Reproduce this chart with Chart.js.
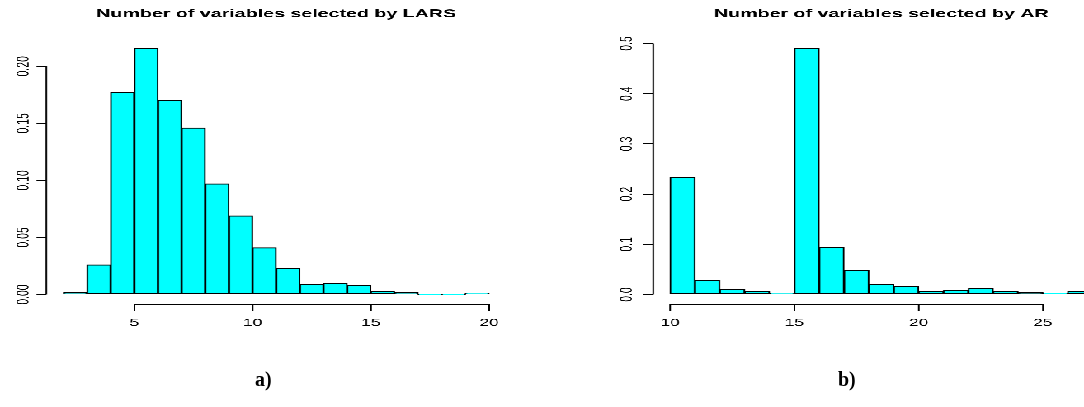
<!DOCTYPE html>
<html>
<head>
<meta charset="utf-8">
<script src="https://cdn.jsdelivr.net/npm/chart.js@4"></script>
<style>
  html, body { margin: 0; padding: 0; background: #fff; }
  body { width: 1084px; height: 407px; position: relative; overflow: hidden; }
  /* the R figure was stretched sideways, so draw narrow and scale */
  #plots { position: absolute; left: 0; top: 0; width: 657px; height: 407px;
           transform: scaleX(1.65); transform-origin: 0 0; overflow: hidden; }
  .box { position: absolute; top: 0; height: 340px; }
  #leftBox { left: 0; width: 330px; }
  #rightBox { left: 327.3px; width: 350px; }
  .cap { position: absolute; top: 368px; font: bold 20px "Liberation Serif", "DejaVu Serif", serif; color: #000; }
</style>
</head>
<body>
<div id="plots">
  <div class="box" id="leftBox"><canvas id="lars"></canvas></div>
  <div class="box" id="rightBox"><canvas id="ar"></canvas></div>
</div>
<div class="cap" style="left:255px">a)</div>
<div class="cap" style="left:838px">b)</div>
<script>
// histogram a): LARS
const larsTitle = 'Number of variables selected by LARS';
const larsBreaks = [2, 3, 4, 5, 6, 7, 8, 9, 10, 11, 12, 13, 14, 15, 16, 17, 18, 19, 20];
const larsDensity = [0.002, 0.026, 0.177, 0.216, 0.170, 0.146, 0.097, 0.069, 0.041,
                     0.023, 0.009, 0.010, 0.008, 0.003, 0.002, 0, 0, 0.001];
const larsXTicks = [5, 10, 15, 20];
const larsYTicks = [0, 0.05, 0.10, 0.15, 0.20];
const larsYLabels = ['0.00', '0.05', '0.10', '0.15', '0.20'];

// histogram b): AR
const arTitle = 'Number of variables selected by AR';
const arBreaks = [10, 11, 12, 13, 14, 15, 16, 17, 18, 19, 20, 21, 22, 23, 24, 25, 26, 27];
const arDensity = [0.234, 0.029, 0.010, 0.0066, 0.002, 0.491, 0.094, 0.0485, 0.021,
                   0.017, 0.0066, 0.0086, 0.013, 0.0066, 0.0047, 0.0027, 0.0066];
const arXTicks = [10, 15, 20, 25];
const arYTicks = [0, 0.1, 0.2, 0.3, 0.4, 0.5];
const arYLabels = ['0.0', '0.1', '0.2', '0.3', '0.4', '0.5'];

Chart.defaults.font.family = '"Liberation Sans", Arial, Helvetica, sans-serif';
Chart.defaults.color = '#000';

// R style axes: a line only from first to last tick
const rAxes = {
  id: 'rAxes',
  afterDraw(chart) {
    const {ctx, chartArea, scales} = chart;
    const xt = chart.options.plugins.rAxes.xTicks;
    const yt = chart.options.plugins.rAxes.yTicks;
    ctx.save();
    ctx.strokeStyle = '#000';
    ctx.lineWidth = 1;
    ctx.beginPath();
    ctx.moveTo(scales.x.getPixelForValue(xt[0]), chartArea.bottom);
    ctx.lineTo(scales.x.getPixelForValue(xt[xt.length - 1]), chartArea.bottom);
    ctx.moveTo(chartArea.left, scales.y.getPixelForValue(yt[0]));
    ctx.lineTo(chartArea.left, scales.y.getPixelForValue(yt[yt.length - 1]));
    ctx.stroke();
    ctx.restore();
  }
};

function makeHist(id, cfg) {
  const b = cfg.breaks;
  const span = b[b.length - 1] - b[0];
  const ymax = Math.max(...cfg.density);
  const bars = cfg.density.map((d, i) => ({ x: (b[i] + b[i + 1]) / 2, y: d }));
  return new Chart(document.getElementById(id), {
    type: 'bar',
    data: {
      datasets: [{
        data: bars,
        backgroundColor: '#00FFFF',
        borderColor: '#000',
        borderWidth: 1,
        borderSkipped: false,
        barPercentage: 1,
        categoryPercentage: 1,
        minBarLength: 1
      }]
    },
    options: {
      responsive: true,
      maintainAspectRatio: false,
      animation: false,
      devicePixelRatio: 3,
      events: [],
      layout: { padding: { left: 0, top: 0, bottom: 0, right: cfg.padRight } },
      plugins: {
        legend: { display: false },
        tooltip: { enabled: false },
        title: {
          display: true,
          text: cfg.title,
          fullSize: false,
          font: { size: 11.9, weight: 'bold', lineHeight: 1.2 },
          padding: { top: 6.8, bottom: 17.1 }
        },
        rAxes: { xTicks: cfg.xTicks, yTicks: cfg.yTicks }
      },
      scales: {
        x: {
          type: 'linear',
          offset: false,
          min: b[0] - 0.04 * span,
          max: b[b.length - 1] + 0.04 * span,
          afterBuildTicks: s => { s.ticks = cfg.xTicks.map(v => ({ value: v })); },
          afterFit: s => { s.height = 35.6; },
          border: { display: false },
          grid: { offset: false, drawOnChartArea: false, drawTicks: true, tickLength: 6.5, color: '#000', lineWidth: 1 },
          ticks: { font: { size: 10.5 }, padding: 6, maxRotation: 0, autoSkip: false, callback: v => String(v) }
        },
        y: {
          type: 'linear',
          min: -0.04 * ymax,
          max: 1.04 * ymax,
          afterBuildTicks: s => { s.ticks = cfg.yTicks.map(v => ({ value: v })); },
          afterFit: s => { s.width = cfg.yWidth; },
          border: { display: false },
          grid: { drawOnChartArea: false, drawTicks: true, tickLength: 6, color: '#000', lineWidth: 1 },
          ticks: {
            font: { size: 10.5 },
            minRotation: 90, maxRotation: 90,
            crossAlign: 'center',
            padding: cfg.yPad,
            autoSkip: false,
            callback: (v, i) => cfg.yLabels[i]
          }
        }
      }
    },
    plugins: [rAxes]
  });
}

makeHist('lars', {
  title: larsTitle, breaks: larsBreaks, density: larsDensity,
  xTicks: larsXTicks, yTicks: larsYTicks, yLabels: larsYLabels,
  yWidth: 28.1, yPad: -2.5, padRight: 23.3
});
makeHist('ar', {
  title: arTitle, breaks: arBreaks, density: arDensity,
  xTicks: arXTicks, yTicks: arYTicks, yLabels: arYLabels,
  yWidth: 68.9, yPad: 2.6, padRight: 4.6
});
</script>
</body>
</html>
